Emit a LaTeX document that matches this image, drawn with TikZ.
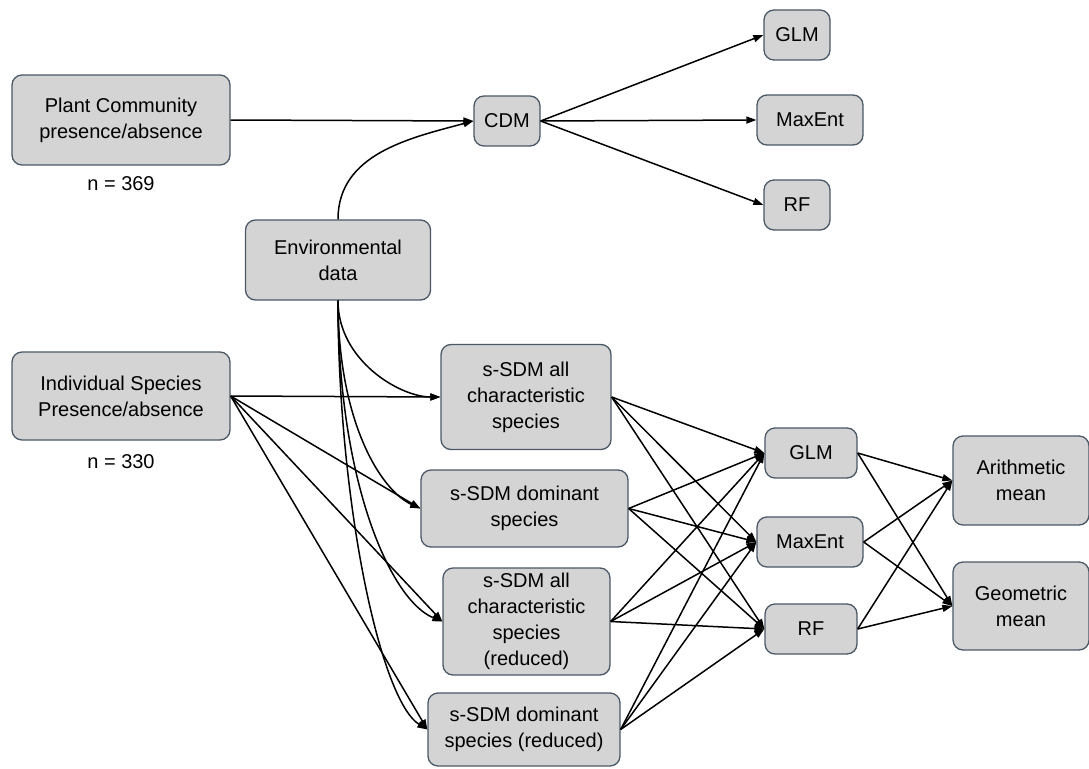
\documentclass[tikz,border=0pt]{standalone}
\usepackage{fontspec}
\setmainfont{Liberation Sans}
\usetikzlibrary{arrows.meta}
\definecolor{boxfill}{HTML}{D4D4D4}
\definecolor{boxline}{HTML}{4B5866}
\begin{document}
\begin{tikzpicture}[x=1pt,y=-1pt,
  box/.style={draw=boxline, fill=boxfill, line width=1.3pt, rounded corners=10pt, align=center,
    font=\fontsize{20}{26}\selectfont, inner sep=0pt},
  arr/.style={line width=1.5pt, -{Triangle[length=10pt,width=7pt]}},
  lbl/.style={font=\fontsize{20}{26}\selectfont}]
\useasboundingbox (0,0) rectangle (1089,768);

% top part
\node[box, minimum width=218, minimum height=90] (plant) at (121,120) {Plant Community\\presence/absence};
\node[lbl] (n369) at (121,184) {n = 369};
\node[box, minimum width=66, minimum height=50] (cdm) at (507,121) {CDM};
\node[box, minimum width=66, minimum height=50] (glmA) at (797,35) {GLM};
\node[box, minimum width=106, minimum height=50] (maxA) at (810,120) {MaxEnt};
\node[box, minimum width=66, minimum height=50] (rfA) at (797,205) {RF};
\node[box, minimum width=185, minimum height=80] (env) at (338,260) {Environmental\\data};

% bottom part
\node[box, minimum width=218, minimum height=88] (indiv) at (121,396) {Individual Species\\Presence/absence};
\node[lbl] (n330) at (121,462) {n = 330};
\node[box, minimum width=170, minimum height=105] (s1) at (526,397) {s-SDM all\\characteristic\\species};
\node[box, minimum width=207, minimum height=77] (s2) at (524.5,508.5) {s-SDM dominant\\species};
\node[box, minimum width=167, minimum height=107] (s3) at (526.5,621.5) {s-SDM all\\characteristic\\species\\(reduced)};
\node[box, minimum width=192, minimum height=73] (s4) at (524,729.5) {s-SDM dominant\\species (reduced)};

\node[box, minimum width=92, minimum height=50] (glm) at (811,453) {GLM};
\node[box, minimum width=106, minimum height=50] (max) at (810,542) {MaxEnt};
\node[box, minimum width=92, minimum height=50] (rf) at (811,629) {RF};
\node[box, minimum width=136, minimum height=89] (arith) at (1021,480.5) {Arithmetic\\mean};
\node[box, minimum width=136, minimum height=88] (geom) at (1021,606) {Geometric\\mean};

% connectors, top
\draw[arr] (plant.east) -- (cdm.west);
\draw[arr] (env.north) to[out=90, in=195] (cdm.west);
\foreach \t in {glmA,maxA,rfA} \draw[arr] (cdm.east) -- (\t.west);

% connectors, bottom
\foreach \t in {s1,s2,s3,s4} \draw[arr] (indiv.east) -- (\t.west);
\draw[arr] (env.south) .. controls +(0,60) and (400,397) .. (s1.west);
\draw[arr] (env.south) .. controls +(0,120) and (380,490) .. (s2.west);
\draw[arr] (env.south) .. controls +(0,180) and (390,600) .. (s3.west);
\draw[arr] (env.south) .. controls +(0,200) and (380,700) .. (s4.west);
\foreach \s in {s1,s2,s3,s4}
  \foreach \t in {glm,max,rf}
    \draw[arr] (\s.east) -- (\t.west);
\foreach \s in {glm,max,rf}
  \foreach \t in {arith,geom}
    \draw[arr] (\s.east) -- (\t.west);
\end{tikzpicture}
\end{document}
